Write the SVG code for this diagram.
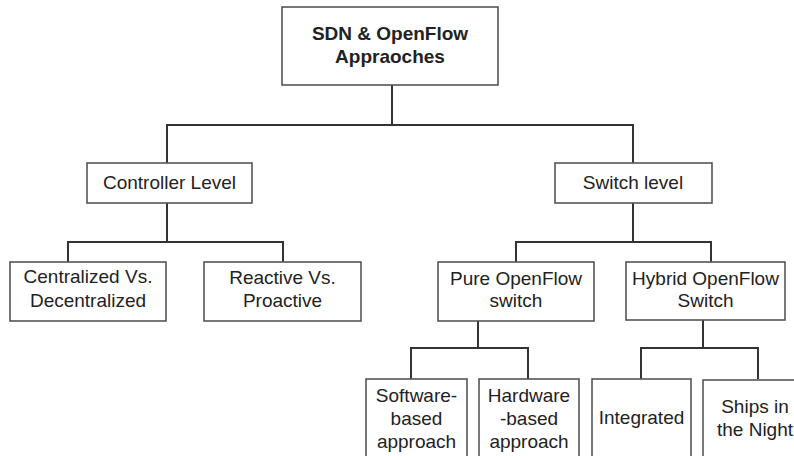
<svg xmlns="http://www.w3.org/2000/svg" width="794" height="456" viewBox="0 0 794 456">
  <style>
    .box { fill: #ffffff; stroke: #555555; stroke-width: 1.6; }
    .link { fill: none; stroke: #333333; stroke-width: 2; }
    text { font-family: "Liberation Sans", Arial, sans-serif; font-size: 19px; fill: #222222; text-anchor: middle; }
    .title { font-weight: bold; }
  </style>
  <rect width="794" height="456" fill="#ffffff"/>

  <!-- tree connectors -->
  <g id="connectors">
    <polyline class="link" points="392,85 392,125"/>
    <polyline class="link" points="167,163 167,125 633,125 633,163"/>
    <polyline class="link" points="167,203 167,242"/>
    <polyline class="link" points="68,262 68,242 283,242 283,262"/>
    <polyline class="link" points="633,203 633,242"/>
    <polyline class="link" points="516,262 516,242 711,242 711,262"/>
    <polyline class="link" points="478,321 478,348"/>
    <polyline class="link" points="411,379 411,348 528,348 528,379"/>
    <polyline class="link" points="703,320 703,348"/>
    <polyline class="link" points="641,379 641,348 758,348 758,379"/>
  </g>

  <g id="root">
    <rect class="box" x="282" y="7" width="216" height="78"/>
    <text class="title" x="390" y="40">SDN &amp; OpenFlow</text>
    <text class="title" x="390" y="63">Appraoches</text>
  </g>

  <g id="controller-level">
    <rect class="box" x="87" y="163" width="165" height="40"/>
    <text x="169.5" y="189">Controller Level</text>
  </g>

  <g id="switch-level">
    <rect class="box" x="555" y="163" width="157" height="40"/>
    <text x="633" y="189">Switch level</text>
  </g>

  <g id="centralized">
    <rect class="box" x="10" y="262" width="156" height="59"/>
    <text x="88" y="283">Centralized Vs.</text>
    <text x="88" y="307">Decentralized</text>
  </g>

  <g id="reactive">
    <rect class="box" x="204" y="262" width="157" height="59"/>
    <text x="282.5" y="284">Reactive Vs.</text>
    <text x="282.5" y="307">Proactive</text>
  </g>

  <g id="pure-openflow">
    <rect class="box" x="438" y="262" width="156" height="59"/>
    <text x="516" y="285">Pure OpenFlow</text>
    <text x="516" y="307">switch</text>
  </g>

  <g id="hybrid-openflow">
    <rect class="box" x="626" y="262" width="159" height="58"/>
    <text x="705.5" y="285">Hybrid OpenFlow</text>
    <text x="705.5" y="307">Switch</text>
  </g>

  <g id="software-based">
    <rect class="box" x="366" y="379" width="101" height="90"/>
    <text x="416.5" y="402">Software-</text>
    <text x="416.5" y="425">based</text>
    <text x="416.5" y="448">approach</text>
  </g>

  <g id="hardware-based">
    <rect class="box" x="479" y="379" width="100" height="90"/>
    <text x="529" y="402">Hardware</text>
    <text x="529" y="425">-based</text>
    <text x="529" y="448">approach</text>
  </g>

  <g id="integrated">
    <rect class="box" x="592" y="379" width="99" height="90"/>
    <text x="641.5" y="424">Integrated</text>
  </g>

  <g id="ships-in-the-night">
    <rect class="box" x="703" y="380" width="110" height="90"/>
    <text x="755" y="413">Ships in</text>
    <text x="755" y="436">the Night</text>
  </g>
</svg>
